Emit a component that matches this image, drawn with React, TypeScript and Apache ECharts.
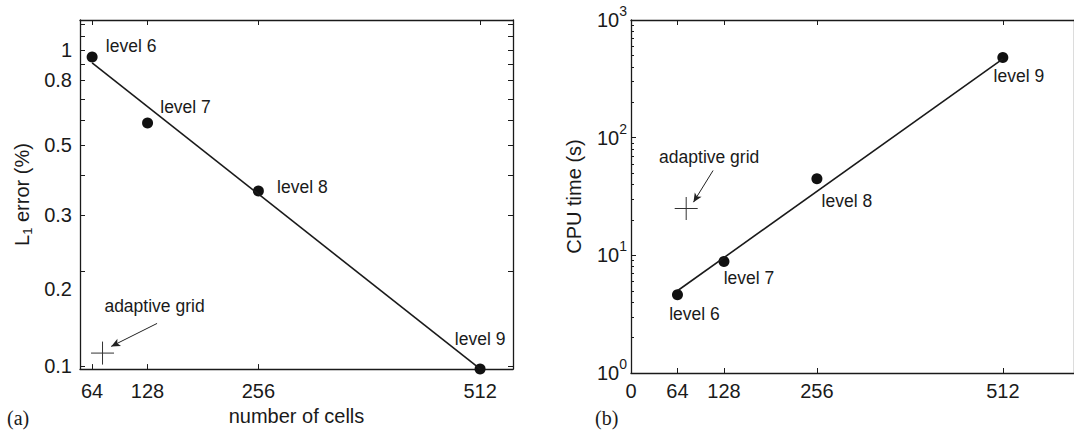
import React, { useEffect, useRef } from 'react';
import * as echarts from 'echarts';

// ---------- data ----------
const cells = [64, 128, 256, 512];
const levelNames = ['level 6', 'level 7', 'level 8', 'level 9'];
const l1Error = [0.949, 0.587, 0.358, 0.098];
const cpuTime = [4.63, 8.87, 44.7, 481];
const fitCells = [64, 512];
const l1ErrorFit = [0.909, 0.098];
const cpuTimeFit = [5.0, 467];
const adaptiveCells = [76];
const adaptiveL1Error = [0.11];
const adaptiveCpuTime = [25];
const adaptiveName = 'adaptive grid';
// arrow annotations (data space: [cells, value])
const leftArrow = [[139, 0.1365], [86, 0.1155]];
const rightArrow = [[113, 52.6], [86, 28.3]];

// ---------- axes ----------
const leftXRange = [50, 550];
const leftYRange = [0.0979, 1.2417];
const rightXRange = [0, 610];
const rightYRange = [1, 1000];
const leftXTicks = [64, 128, 256, 512];
const rightXTicks = [0, 64, 128, 256, 512];
const leftYLabels = [0.1, 0.2, 0.3, 0.5, 0.8, 1];
const leftYTicks = [0.1, 0.2, 0.3, 0.4, 0.5, 0.6, 0.7, 0.8, 0.9, 1, 1.1, 1.2];
const rightYDecades = [1, 10, 100, 1000];
const rightYMinor = [2, 3, 4, 5, 6, 7, 8, 9, 20, 30, 40, 50, 60, 70, 80, 90, 200, 300, 400, 500, 600, 700, 800, 900];

// label offsets (styling)
const leftLabelOffsets = [[39, -11], [38, -16], [44, -4], [0, -30]];
const rightLabelOffsets = [[17, 19], [25, 17], [30, 22], [16, 19]];

const FONT = '"Liberation Sans", Arial, Helvetica, sans-serif';
const INK = '#1a1a1a';
const lg = (v: number) => Math.log10(v);

function App() {
  const ref = useRef<HTMLDivElement>(null);
  useEffect(() => {
    document.body.style.margin = '0';
    const chart = echarts.init(ref.current!, null, { renderer: 'svg' });

    const axisLine = { show: true, onZero: false, lineStyle: { color: INK, width: 1.3 } };
    const tickStyle = { color: INK, width: 1 };

    const xBase = (grid: number, range: number[], ticks: number[], pos: string, labels: boolean, margin: number) => ({
      type: 'value',
      gridIndex: grid,
      position: pos,
      min: range[0],
      max: range[1],
      axisLine,
      splitLine: { show: false },
      axisTick: { show: true, inside: true, length: 5, lineStyle: tickStyle, customValues: ticks },
      axisLabel: labels
        ? { show: true, customValues: ticks, fontSize: 20, fontFamily: FONT, color: INK, margin }
        : { show: false },
    });

    const option: any = {
      animation: false,
      grid: [
        { left: 80, top: 20, width: 433, height: 353, show: false },
        { left: 631, top: 20, width: 447, height: 353, show: false },
      ],
      xAxis: [
        {
          ...xBase(0, leftXRange, leftXTicks, 'bottom', true, 12),
          name: 'number of cells',
          nameLocation: 'middle',
          nameGap: 35,
          nameTextStyle: { fontSize: 20, fontFamily: FONT, color: INK },
        },
        xBase(0, leftXRange, leftXTicks, 'top', false, 0),
        xBase(1, rightXRange, rightXTicks, 'bottom', true, 8),
        xBase(1, rightXRange, rightXTicks, 'top', false, 0),
      ],
      yAxis: [
        {
          type: 'value',
          gridIndex: 0,
          position: 'left',
          min: lg(leftYRange[0]),
          max: lg(leftYRange[1]),
          axisLine,
          splitLine: { show: false },
          axisTick: { show: true, inside: true, length: 5, lineStyle: tickStyle, customValues: leftYTicks.map(lg) },
          axisLabel: {
            show: true,
            customValues: leftYLabels.map(lg),
            margin: 8,
            formatter: (v: number) => {
              const x = Math.pow(10, v);
              const s = Math.abs(x - 1) < 1e-6 ? '1' : x.toFixed(1);
              // the 0.2 label sits a little below its tick in the reference
              return s === '0.2' ? `{sp| }{low|${s}}` : `{n|${s}}`;
            },
            rich: {
              n: { fontSize: 20, fontFamily: FONT, color: INK, lineHeight: 20 },
              sp: { fontSize: 1, lineHeight: 56 },
              low: { fontSize: 20, fontFamily: FONT, color: INK, lineHeight: 20, verticalAlign: 'bottom' },
            },
          },
          name: '{a|L}{s|1}{a| error (%)}',
          nameLocation: 'middle',
          nameGap: 46,
          nameTextStyle: {
            color: INK,
            rich: {
              a: { fontSize: 20, fontFamily: FONT, color: INK, lineHeight: 24 },
              s: { fontSize: 13, fontFamily: FONT, color: INK, verticalAlign: 'bottom', lineHeight: 13 },
            },
          },
        },
        {
          type: 'value',
          gridIndex: 0,
          position: 'right',
          min: lg(leftYRange[0]),
          max: lg(leftYRange[1]),
          axisLine,
          splitLine: { show: false },
          axisTick: { show: true, inside: true, length: 5, lineStyle: tickStyle, customValues: leftYTicks.map(lg) },
          axisLabel: { show: false },
        },
        {
          type: 'value',
          gridIndex: 1,
          position: 'left',
          min: lg(rightYRange[0]),
          max: lg(rightYRange[1]),
          axisLine,
          splitLine: { show: false },
          axisTick: { show: true, inside: true, length: 5, lineStyle: tickStyle, customValues: rightYDecades.map(lg) },
          axisLabel: {
            show: true,
            customValues: rightYDecades.map(lg),
            margin: 4,
            formatter: (v: number) => `{b|10}{s|${Math.round(v)}}`,
            rich: {
              b: { fontSize: 20, fontFamily: FONT, color: INK, lineHeight: 32 },
              s: { fontSize: 14, fontFamily: FONT, color: INK, verticalAlign: 'top', lineHeight: 14 },
            },
          },
          name: 'CPU time (s)',
          nameLocation: 'middle',
          nameGap: 47,
          nameTextStyle: { fontSize: 20, fontFamily: FONT, color: INK },
        },
        {
          type: 'value',
          gridIndex: 1,
          position: 'left',
          min: lg(rightYRange[0]),
          max: lg(rightYRange[1]),
          axisLine: { show: false, onZero: false },
          splitLine: { show: false },
          axisTick: { show: true, inside: true, length: 3, lineStyle: tickStyle, customValues: rightYMinor.map(lg) },
          axisLabel: { show: false },
        },
        {
          type: 'value',
          gridIndex: 1,
          position: 'right',
          min: lg(rightYRange[0]),
          max: lg(rightYRange[1]),
          axisLine,
          splitLine: { show: false },
          axisTick: { show: false },
          axisLabel: { show: false },
        },
      ],
      graphic: [
        { type: 'text', left: 7, top: 408, style: { text: '(a)', font: '20px "Liberation Serif", "Times New Roman", serif', fill: INK } },
        { type: 'text', left: 595, top: 408, style: { text: '(b)', font: '20px "Liberation Serif", "Times New Roman", serif', fill: INK } },
      ],
      series: [] as any[],
    };

    const labelStyle = { fontSize: 17.5, fontFamily: FONT, color: INK, opacity: 1 };
    const crossSymbol = 'path://M0,12L24,12M12,0L12,24';

    const panels = [
      { x: 0, y: 0, values: l1Error, fit: l1ErrorFit, adaptive: adaptiveL1Error, offsets: leftLabelOffsets, arrow: leftArrow, adaptiveOffset: [52, -47] },
      { x: 2, y: 2, values: cpuTime, fit: cpuTimeFit, adaptive: adaptiveCpuTime, offsets: rightLabelOffsets, arrow: rightArrow, adaptiveOffset: [23, -52] },
    ];

    panels.forEach((p) => {
      option.series.push({
        type: 'line',
        xAxisIndex: p.x,
        yAxisIndex: p.y,
        data: fitCells.map((c, i) => [c, lg(p.fit[i])]),
        symbol: 'none',
        lineStyle: { color: INK, width: 1.6 },
        clip: false,
        silent: true,
      });
      option.series.push({
        type: 'scatter',
        xAxisIndex: p.x,
        yAxisIndex: p.y,
        symbol: 'circle',
        symbolSize: 11,
        itemStyle: { color: '#111', opacity: 1 },
        clip: false,
        data: cells.map((c, i) => ({
          value: [c, lg(p.values[i])],
          name: levelNames[i],
          label: { show: true, position: 'inside', offset: p.offsets[i], formatter: levelNames[i], ...labelStyle },
        })),
      });
      option.series.push({
        type: 'scatter',
        xAxisIndex: p.x,
        yAxisIndex: p.y,
        symbol: crossSymbol,
        symbolSize: 23,
        itemStyle: { color: 'none', borderColor: '#333', borderWidth: 1, opacity: 1 },
        clip: false,
        data: adaptiveCells.map((c, i) => ({
          value: [c, lg(p.adaptive[i])],
          name: adaptiveName,
          label: { show: true, position: 'inside', offset: p.adaptiveOffset, formatter: adaptiveName, ...labelStyle },
        })),
        markLine: {
          silent: true,
          animation: false,
          symbol: ['none', 'arrow'],
          symbolSize: [6, 9],
          label: { show: false },
          lineStyle: { color: '#222', width: 1, type: 'solid' },
          data: [[
            { coord: [p.arrow[0][0], lg(p.arrow[0][1])] },
            { coord: [p.arrow[1][0], lg(p.arrow[1][1])] },
          ]],
        },
      });
    });

    chart.setOption(option);
    return () => chart.dispose();
  }, []);

  return <div ref={ref} style={{ width: 1074, height: 431 }} />;
}

export default App;
